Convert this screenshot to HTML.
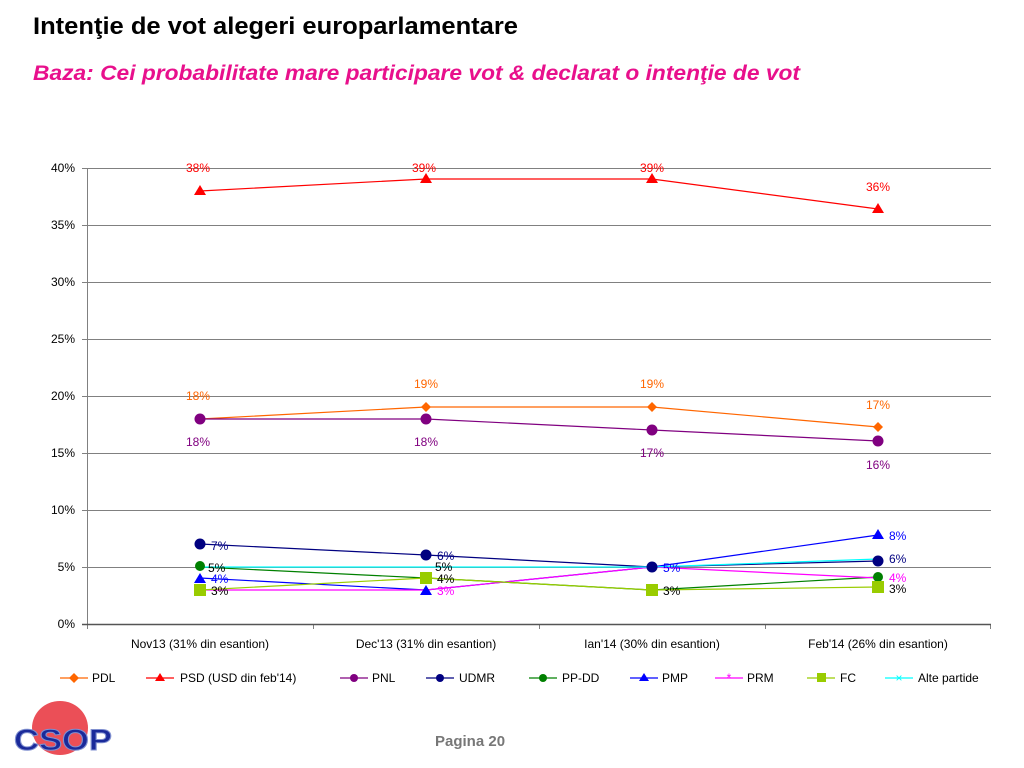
<!DOCTYPE html>
<html><head><meta charset="utf-8"><style>html,body{margin:0;padding:0;background:#fff}svg{display:block}</style></head><body>
<svg width="1024" height="768" xmlns="http://www.w3.org/2000/svg" font-family="Liberation Sans, Arial, sans-serif">
<text x="33" y="34" font-size="24" font-weight="bold" textLength="485" lengthAdjust="spacingAndGlyphs">Intenţie de vot alegeri europarlamentare</text>
<text x="33" y="80" font-size="21" font-weight="bold" font-style="italic" fill="#e8108c" textLength="767" lengthAdjust="spacingAndGlyphs">Baza: Cei probabilitate mare participare vot &amp; declarat o intenţie de vot</text>
<g stroke="#808080" stroke-width="1">
<line x1="87" y1="168.5" x2="991" y2="168.5"/><line x1="87" y1="225.5" x2="991" y2="225.5"/><line x1="87" y1="282.5" x2="991" y2="282.5"/><line x1="87" y1="339.5" x2="991" y2="339.5"/><line x1="87" y1="396.5" x2="991" y2="396.5"/><line x1="87" y1="453.5" x2="991" y2="453.5"/><line x1="87" y1="510.5" x2="991" y2="510.5"/><line x1="87" y1="567.5" x2="991" y2="567.5"/>
<line x1="87.5" y1="168" x2="87.5" y2="629"/><line x1="82" y1="168.5" x2="87" y2="168.5"/><line x1="82" y1="225.5" x2="87" y2="225.5"/><line x1="82" y1="282.5" x2="87" y2="282.5"/><line x1="82" y1="339.5" x2="87" y2="339.5"/><line x1="82" y1="396.5" x2="87" y2="396.5"/><line x1="82" y1="453.5" x2="87" y2="453.5"/><line x1="82" y1="510.5" x2="87" y2="510.5"/><line x1="82" y1="567.5" x2="87" y2="567.5"/>
<line x1="313.5" y1="624" x2="313.5" y2="629"/><line x1="539.5" y1="624" x2="539.5" y2="629"/><line x1="765.5" y1="624" x2="765.5" y2="629"/><line x1="990.5" y1="624" x2="990.5" y2="629"/>
</g>
<line x1="82" y1="624.5" x2="991" y2="624.5" stroke="#555" stroke-width="1.5"/>
<g font-size="12" text-anchor="end">
<text x="75" y="172">40%</text><text x="75" y="229">35%</text><text x="75" y="286">30%</text><text x="75" y="343">25%</text><text x="75" y="400">20%</text><text x="75" y="457">15%</text><text x="75" y="514">10%</text><text x="75" y="571">5%</text><text x="75" y="628">0%</text>
</g>
<g font-size="12" text-anchor="middle">
<text x="200" y="648">Nov13 (31% din esantion)</text><text x="426" y="648">Dec'13 (31% din esantion)</text><text x="652" y="648">Ian'14 (30% din esantion)</text><text x="878" y="648">Feb'14 (26% din esantion)</text>
</g>
<g fill="none" stroke-width="1.2">
<polyline stroke="#ff0000" points="200,191 426,179 652,179 878,209"/>
<polyline stroke="#ff6600" points="200,419 426,407 652,407 878,427"/>
<polyline stroke="#800080" points="200,419 426,419 652,430 878,441"/>
<polyline stroke="#000080" points="200,544 426,555 652,567 878,561"/>
<polyline stroke="#008000" points="200,567 426,578 652,590 878,577"/>
<polyline stroke="#0000ff" points="200,578 426,590 652,567 878,535"/>
<polyline stroke="#ff00ff" points="200,590 426,590 652,567 878,578"/>
<polyline stroke="#99cc00" points="200,590 426,578 652,590 878,587"/>
<polyline stroke="#00ffff" points="200,567 426,567 652,567 878,559"/>
</g>
<g fill="#ff0000"><path d="M200,185l6,10h-12z"/><path d="M426,173l6,10h-12z"/><path d="M652,173l6,10h-12z"/><path d="M878,203l6,10h-12z"/></g>
<g fill="#ff6600"><path d="M878,422l5,5-5,5-5-5z"/><path d="M426,402l5,5-5,5-5-5z"/><path d="M652,402l5,5-5,5-5-5z"/></g>
<g fill="#800080"><circle cx="200" cy="419" r="5.5"/><circle cx="426" cy="419" r="5.5"/><circle cx="652" cy="430" r="5.5"/><circle cx="878" cy="441" r="5.5"/></g>
<g fill="#000080"><circle cx="200" cy="544" r="5.5"/><circle cx="426" cy="555" r="5.5"/><circle cx="652" cy="567" r="5.5"/><circle cx="878" cy="561" r="5.5"/></g>
<g fill="#008000"><circle cx="200" cy="566" r="5"/><circle cx="878" cy="577" r="5"/></g>
<g fill="#0000ff"><path d="M200,573l6,10h-12z"/><path d="M426,585l6,10h-12z"/><path d="M878,529l6,10h-12z"/></g>
<g fill="#99cc00"><rect x="194" y="584" width="12" height="12"/><rect x="420" y="572" width="12" height="12"/><rect x="646" y="584" width="12" height="12"/><rect x="872" y="581" width="12" height="12"/></g>
<g font-size="12" text-anchor="middle">
<text x="198" y="172" fill="#ff0000">38%</text><text x="424" y="172" fill="#ff0000">39%</text><text x="652" y="172" fill="#ff0000">39%</text><text x="878" y="191" fill="#ff0000">36%</text>
<text x="198" y="400" fill="#ff6600">18%</text><text x="426" y="388" fill="#ff6600">19%</text><text x="652" y="388" fill="#ff6600">19%</text><text x="878" y="409" fill="#ff6600">17%</text>
<text x="198" y="446" fill="#800080">18%</text><text x="426" y="446" fill="#800080">18%</text><text x="652" y="457" fill="#800080">17%</text><text x="878" y="469" fill="#800080">16%</text>
</g>
<g font-size="12">
<text x="211" y="550" fill="#000080">7%</text><text x="437" y="560" fill="#000080">6%</text>
<text x="208" y="572" fill="#000">5%</text><text x="211" y="583" fill="#0000ff">4%</text><text x="211" y="595" fill="#000">3%</text>
<text x="435" y="571" fill="#000">5%</text><text x="437" y="583" fill="#000">4%</text><text x="437" y="595" fill="#ff00ff">3%</text>
<text x="663" y="572" fill="#0000ff">5%</text><text x="663" y="595" fill="#000">3%</text>
<text x="889" y="540" fill="#0000ff">8%</text><text x="889" y="563" fill="#000080">6%</text><text x="889" y="582" fill="#ff00ff">4%</text><text x="889" y="593" fill="#000">3%</text>
</g>
<g font-size="12" stroke-width="1.2">
<line x1="60" y1="678" x2="88" y2="678" stroke="#ff6600"/><path d="M74,673l5,5-5,5-5-5z" fill="#ff6600"/><text x="92" y="682">PDL</text>
<line x1="146" y1="678" x2="174" y2="678" stroke="#ff0000"/><path d="M160,673l5,8h-10z" fill="#ff0000"/><text x="180" y="682">PSD (USD din feb'14)</text>
<line x1="340" y1="678" x2="368" y2="678" stroke="#800080"/><circle cx="354" cy="678" r="4" fill="#800080"/><text x="372" y="682">PNL</text>
<line x1="426" y1="678" x2="454" y2="678" stroke="#000080"/><circle cx="440" cy="678" r="4" fill="#000080"/><text x="459" y="682">UDMR</text>
<line x1="529" y1="678" x2="557" y2="678" stroke="#008000"/><circle cx="543" cy="678" r="4" fill="#008000"/><text x="562" y="682">PP-DD</text>
<line x1="630" y1="678" x2="658" y2="678" stroke="#0000ff"/><path d="M644,673l5,8h-10z" fill="#0000ff"/><text x="662" y="682">PMP</text>
<line x1="715" y1="678" x2="743" y2="678" stroke="#ff00ff"/><text x="729" y="682" fill="#ff00ff" text-anchor="middle">*</text><text x="747" y="682">PRM</text>
<line x1="807" y1="678" x2="835" y2="678" stroke="#99cc00"/><rect x="817" y="673" width="9" height="9" fill="#99cc00"/><text x="840" y="682">FC</text>
<line x1="885" y1="678" x2="913" y2="678" stroke="#00ffff"/><text x="899" y="682" fill="#00ffff" text-anchor="middle">×</text><text x="918" y="682">Alte partide</text>
</g>
<ellipse cx="60" cy="728" rx="28" ry="27" fill="#e8303a" opacity="0.85"/>
<text x="14" y="750" font-size="30" font-weight="bold" fill="#1a2a9a" stroke="#8090d0" stroke-width="1" textLength="98" lengthAdjust="spacingAndGlyphs">CSOP</text>
<text x="435" y="746" font-size="15" font-weight="bold" fill="#777">Pagina  20</text>
</svg>
</body></html>
